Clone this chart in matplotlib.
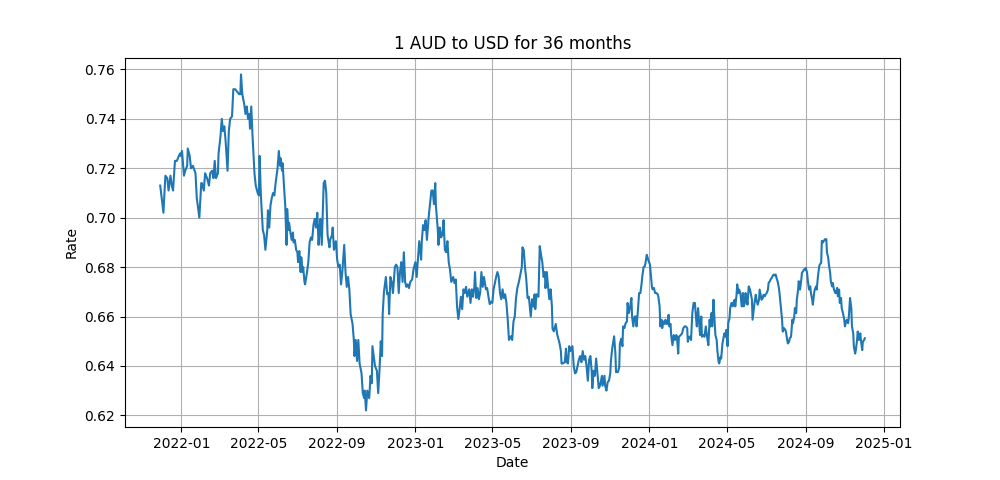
import pandas as pd
import matplotlib.pyplot as plt

# Daily AUD/USD rate, as days counted from 2022-01-01
start = pd.Timestamp('2022-01-01')

days = [
    -33, -28, -25, -22, -20, -17, -15, -13, -10, -7, -4, -2, -1, 1, 4, 6, 9, 10, 13, 15,
    18, 22, 24, 28, 31, 32, 35, 37, 40, 43, 45, 48, 50, 52, 54, 57, 58, 61, 63, 65,
    67, 69, 72, 74, 76, 79, 81, 84, 87, 90, 92, 93,
    95, 98, 100, 102, 104, 106, 107, 109, 111, 114, 116, 119, 121, 122, 124, 127, 129, 131, 134, 135,
    137, 139, 141, 143, 145, 147, 149, 150, 152, 154, 155, 157, 158, 160, 162, 164, 165, 167, 168, 170,
    172, 174, 175, 177, 179, 181, 182, 184, 186, 187, 189, 190, 192, 193, 196, 198, 200, 202, 204, 206,
    208, 210, 212, 214, 216, 217, 219, 220, 222, 224, 226, 228, 231,
    232, 235, 236, 238, 241, 243, 245, 247, 249, 251, 254, 256, 258, 260, 262, 264, 267, 269, 270, 272,
    274, 276, 278, 281, 283, 285, 286, 288, 290, 293, 295, 297, 298, 300, 302, 305, 307, 309, 311, 313,
    314, 316, 319, 321, 323, 324, 326, 328, 330, 333, 335, 337, 339, 341, 343, 345, 347, 349, 351, 353,
    355, 357, 360, 362, 365, 367, 369, 371,
    374, 375, 377, 379, 381, 383, 386, 388, 390, 392, 394, 396, 397, 400, 401, 403, 405, 407, 409, 411,
    413, 415, 417, 419, 421, 424, 426, 428, 430, 432, 434, 436, 438, 440, 442, 444, 446, 449, 451, 453,
    455, 457, 458, 460, 462, 464, 466, 468, 470, 472, 475, 477, 479, 481, 483, 485, 487, 489, 491, 493,
    495, 497, 499, 501, 503, 505, 507, 509, 511,
    514, 516, 518, 520, 522, 524, 526, 528, 531, 532, 534, 536, 538, 540, 542, 545, 547, 549, 551, 552,
    554, 557, 559, 561, 563, 565, 567, 568, 570, 572, 574, 576, 578, 579, 581, 584, 586, 588, 590, 592,
    593, 595, 598, 600, 601, 603, 605, 607, 610, 612, 614, 616, 618, 620, 622, 624, 626, 628, 630, 632,
    634, 636, 638, 640, 641, 643, 645, 647, 649, 651,
    653, 656, 657, 660, 661, 663, 665, 667, 669, 670, 672, 675, 677, 678, 681, 683, 684, 686, 688, 689,
    691, 693, 695, 696, 698, 700, 702, 703, 705, 707, 709, 710, 712, 714, 716, 718, 719, 721, 723, 724,
    726, 728, 729, 731, 732, 734, 735, 737, 739, 741, 743, 744, 746, 747, 749, 750, 752, 754, 755, 757,
    758, 760, 761, 763, 764, 766, 768, 770, 772, 773, 775, 776, 779, 781, 783, 785, 787, 789, 790, 792,
    794, 795, 797, 799, 801, 803, 804, 806, 808, 809, 811, 812, 814, 816, 818, 820, 822, 824, 825, 827,
    828, 830, 831, 833, 835, 836, 838, 839, 841, 842, 844, 846, 847, 849, 850, 852, 853, 855, 856, 858,
    860, 861, 863, 864, 866, 867, 869, 870, 872, 874, 876, 877, 879, 880, 882, 883, 885, 887, 888, 890,
    891, 893, 894, 896, 897, 899, 901, 902, 904, 905, 907, 908, 910, 911, 913, 915, 916, 918, 919, 921,
    922, 924, 926, 927, 929, 930, 932, 933,
    935, 937, 938, 940, 942, 943, 945, 946, 948, 949, 951, 953, 954, 956, 957, 959, 960, 962, 963, 965,
    967, 968, 970, 971, 973, 974, 976, 977, 979, 981, 982, 984, 985, 987, 988, 990, 991, 993, 995, 996,
    998, 999, 1001, 1002, 1004, 1006, 1007, 1009, 1010, 1012, 1013, 1015, 1016, 1018, 1020, 1021, 1023, 1024, 1026, 1027,
    1029, 1030, 1032, 1034, 1035, 1037, 1038, 1040, 1041, 1043, 1045, 1046, 1048, 1049, 1051, 1052, 1054, 1055, 1057, 1059,
    1060, 1062, 1063, 1065, 1066,
]

rates = [
    0.713, 0.702, 0.717, 0.716, 0.711, 0.717, 0.713, 0.711, 0.723, 0.723, 0.725, 0.726, 0.725, 0.727, 0.717, 0.719, 0.721, 0.728, 0.725, 0.720,
    0.721, 0.718, 0.708, 0.700, 0.714, 0.714, 0.711, 0.718, 0.716, 0.713, 0.718, 0.719, 0.716, 0.723, 0.716, 0.718, 0.726, 0.733, 0.740, 0.735,
    0.737, 0.731, 0.719, 0.735, 0.740, 0.741, 0.752, 0.752, 0.751, 0.750, 0.750, 0.758,
    0.750, 0.746, 0.742, 0.745, 0.740, 0.742, 0.736, 0.745, 0.733, 0.718, 0.713, 0.710, 0.709, 0.725, 0.709, 0.695, 0.693, 0.687, 0.695, 0.703,
    0.696, 0.705, 0.708, 0.710, 0.709, 0.714, 0.718, 0.720, 0.727, 0.721, 0.724, 0.719, 0.722, 0.713, 0.705, 0.689, 0.7035, 0.695, 0.698, 0.694,
    0.691, 0.694, 0.690, 0.691, 0.687, 0.686, 0.682, 0.6865, 0.678, 0.684, 0.678, 0.680, 0.674, 0.673, 0.678, 0.682, 0.690, 0.692, 0.691, 0.697,
    0.6995, 0.696, 0.702, 0.689, 0.697, 0.6995, 0.689, 0.697, 0.714, 0.715, 0.710, 0.693, 0.688,
    0.691, 0.693, 0.696, 0.687, 0.6905, 0.683, 0.680, 0.681, 0.673, 0.678, 0.689, 0.678, 0.672, 0.676, 0.671, 0.661, 0.657, 0.6505, 0.644, 0.6505,
    0.642, 0.6505, 0.641, 0.637, 0.629, 0.627, 0.630, 0.622, 0.630, 0.627, 0.636, 0.633, 0.648, 0.644, 0.640, 0.638, 0.629, 0.638, 0.650, 0.644,
    0.661, 0.670, 0.676, 0.669, 0.6695, 0.661, 0.676, 0.674, 0.6695, 0.680, 0.681, 0.680, 0.6695, 0.678, 0.682, 0.674, 0.686, 0.674, 0.672, 0.673,
    0.6715, 0.674, 0.675, 0.679, 0.682, 0.676, 0.683, 0.6905,
    0.683, 0.6905, 0.697, 0.695, 0.699, 0.691, 0.701, 0.706, 0.711, 0.711, 0.7055, 0.714, 0.705, 0.695, 0.689, 0.696, 0.692, 0.693, 0.699, 0.687,
    0.686, 0.6905, 0.682, 0.679, 0.674, 0.676, 0.6735, 0.675, 0.664, 0.659, 0.663, 0.668, 0.663, 0.671, 0.6695, 0.672, 0.668, 0.671, 0.6655, 0.671,
    0.668, 0.672, 0.678, 0.6675, 0.6715, 0.667, 0.6695, 0.678, 0.672, 0.676, 0.671, 0.6715, 0.668, 0.665, 0.666, 0.6655, 0.671, 0.6735, 0.676, 0.678,
    0.676, 0.6695, 0.667, 0.671, 0.6675, 0.669, 0.6655, 0.659, 0.6505,
    0.652, 0.6505, 0.658, 0.660, 0.6675, 0.6715, 0.6735, 0.676, 0.680, 0.688, 0.687, 0.680, 0.675, 0.6675, 0.668, 0.660, 0.667, 0.664, 0.669, 0.663,
    0.669, 0.668, 0.6885, 0.685, 0.682, 0.676, 0.678, 0.6715, 0.678, 0.672, 0.667, 0.671, 0.664, 0.655, 0.654, 0.657, 0.653, 0.651, 0.649, 0.646,
    0.641, 0.641, 0.6415, 0.647, 0.6415, 0.641, 0.648, 0.646, 0.648, 0.640, 0.637, 0.6375, 0.640, 0.6425, 0.644, 0.6415, 0.646, 0.6425, 0.644, 0.640,
    0.634, 0.6425, 0.644, 0.638, 0.631, 0.638, 0.636, 0.643, 0.637, 0.631,
    0.632, 0.636, 0.632, 0.636, 0.632, 0.630, 0.6335, 0.634, 0.637, 0.642, 0.647, 0.652, 0.645, 0.6375, 0.6375, 0.6395, 0.649, 0.651, 0.648, 0.656,
    0.6553, 0.6573, 0.658, 0.6655, 0.6614, 0.664, 0.6675, 0.660, 0.656, 0.660, 0.660, 0.656, 0.662, 0.6695, 0.6695, 0.6736, 0.6763, 0.680, 0.6804, 0.6818,
    0.685, 0.6831, 0.6824, 0.681, 0.6777, 0.672, 0.671, 0.6716, 0.6695, 0.6695, 0.669, 0.668, 0.664, 0.656, 0.6587, 0.6553, 0.658, 0.657, 0.6587, 0.657,
    0.657, 0.6607, 0.656, 0.657, 0.6525, 0.6484, 0.6525, 0.6505, 0.6525, 0.6518, 0.645, 0.6518, 0.6525, 0.6532, 0.6553, 0.656, 0.656, 0.6553, 0.6498, 0.6518,
    0.6518, 0.6505, 0.6614, 0.6655, 0.6655, 0.6587, 0.656, 0.6634, 0.656, 0.6525, 0.660, 0.6518, 0.6525, 0.6518, 0.656, 0.6518, 0.6484, 0.6587, 0.656, 0.6614,
    0.656, 0.6668, 0.6614, 0.6525, 0.6505, 0.6464, 0.6416, 0.641, 0.6437, 0.643, 0.6491, 0.6518, 0.6532, 0.6518, 0.6546, 0.648, 0.6573, 0.6593, 0.6634, 0.6655,
    0.6641, 0.6655, 0.6668, 0.6641, 0.6688, 0.673, 0.6695, 0.6709, 0.6695, 0.6641, 0.6695, 0.6641, 0.6655, 0.6695, 0.6668, 0.6648, 0.6722, 0.6709, 0.6695, 0.6668,
    0.6587, 0.6634, 0.6655, 0.6688, 0.6668, 0.6648, 0.6668, 0.6709, 0.6682, 0.6668, 0.6675, 0.6688, 0.6682, 0.6688, 0.6695, 0.6709, 0.6736, 0.6743, 0.675, 0.6757,
    0.6763, 0.677, 0.6766, 0.677, 0.675, 0.6743, 0.6716, 0.6695,
    0.6641, 0.6587, 0.6539, 0.6553, 0.6546, 0.6539, 0.6505, 0.6491, 0.6498, 0.6512, 0.6518, 0.6587, 0.6573, 0.660, 0.6634, 0.6614, 0.6668, 0.6709, 0.6743, 0.6709,
    0.675, 0.6777, 0.6784, 0.679, 0.679, 0.6797, 0.6777, 0.675, 0.6709, 0.6722, 0.6695, 0.6668, 0.6648, 0.6695, 0.6709, 0.6722, 0.6709, 0.6763, 0.6804, 0.6811,
    0.6818, 0.6906, 0.690, 0.6906, 0.6913, 0.6913, 0.6859, 0.6838, 0.6811, 0.6777, 0.6743, 0.6722, 0.6736, 0.6709, 0.6695, 0.6695, 0.6716, 0.6682, 0.6709, 0.6655,
    0.6675, 0.6634, 0.6614, 0.6587, 0.656, 0.658, 0.6587, 0.6573, 0.6593, 0.6675, 0.6634, 0.656, 0.6532, 0.6478, 0.645, 0.6464, 0.6505, 0.6539, 0.6505, 0.6532,
    0.6505, 0.6464, 0.6498, 0.6505, 0.6512,
]

dates = start + pd.to_timedelta(days, unit='D')

plt.figure(figsize=(10, 4.8))
plt.plot(dates, rates)

plt.title('1 AUD to USD for 36 months')
plt.xlabel('Date')
plt.ylabel('Rate')
plt.grid(True)

plt.savefig('out.png', dpi=100)
